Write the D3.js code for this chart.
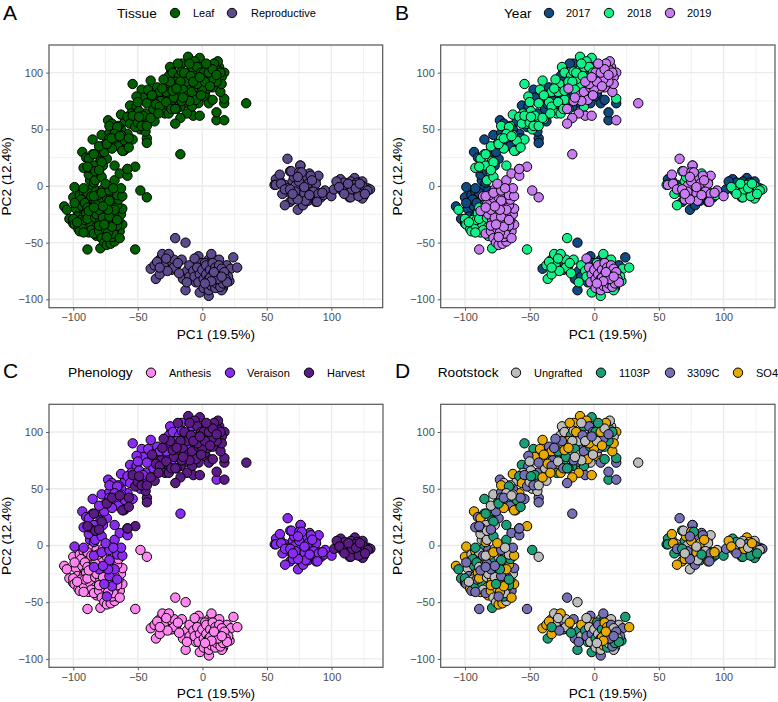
<!DOCTYPE html>
<html><head><meta charset="utf-8">
<script src="https://d3js.org/d3.v7.min.js"></script>
<style>
html,body{margin:0;padding:0;background:#fff}
svg{display:block}
text{font-family:"Liberation Sans",Arial,sans-serif}
</style></head><body><svg id="c" width="778" height="702"></svg>
<script>
// Each row: PC1, PC2, rootstock index
const leafAnthesis2017=[[-107,-18,3],[-103,-29,1],[-100,-10,3],[-98,-20,0],[-96,-14,2],[-97,-27,2],[-95,-8,0],[-93,-18,1],[-92,-5,3],[-91,-24,0],[-90,-10,2],[-88,-16,3],[-87,-28,1],[-86,-3,1],[-85,-20,2],[-84,-10,0],[-83,-32,3],[-82,-4,2],[-81,-15,0],[-94,-33,3],[-90,-38,2],[-100,-33,1],[-94,-12,1],[-89,-6,0],[-86,-13,3],[-99,-15,2],[-92,-27,3],[-88,-34,0],[-91,-15,1]];
const leafAnthesis2018=[[-105,-21,1],[-100,-29,1],[-99,-34,2],[-96,-38,3],[-95,-40,2],[-94,-30,0],[-92,-35,1],[-90,-24,3],[-89,-19,0],[-88,-41,3],[-87,-33,1],[-85,-26,2],[-84,-21,0],[-83,-37,3],[-82,-44,3],[-80,-28,0],[-79,-55,1],[-52,-56,2],[-79,-18,2],[-76,-42,3],[-73,-47,1],[-86,-39,0],[-91,-30,2],[-78,-34,1],[-84,-15,3],[-81,-23,1],[-92,-41,2],[-97,-32,0],[-89,-29,3],[-83,-28,0]];
const leafAnthesis2019=[[-89,-56,2],[-48,-4,1],[-43,-10,0],[-84,-42,2],[-80,-40,3],[-78,-46,0],[-76,-50,0],[-74,-52,3],[-71,-51,3],[-68,-49,0],[-66,-45,3],[-70,-45,1],[-64,-40,2],[-62,-34,3],[-65,-30,0],[-63,-25,0],[-62,-20,2],[-68,-38,3],[-75,-38,0],[-72,-30,1],[-79,-30,3],[-82,-25,0],[-76,-24,2],[-70,-24,0],[-66,-17,3],[-86,-9,2],[-78,-14,1],[-74,-10,0],[-70,-12,3],[-65,-12,1],[-73,-18,0],[-83,-16,2],[-81,-8,3],[-77,-3,0],[-88,-22,2],[-69,-42,0],[-73,-41,3],[-66,-35,1],[-64,-46,3],[-77,-28,0],[-68,-27,2],[-80,-35,3],[-71,-7,3],[-67,-3,0]];
const leafVeraison2017=[[-99,-1,3],[-85,41,1],[-78,45,0],[-73,58,2],[-56,71,1],[-47,85,1],[-93,30,3],[-90,25,2],[-86,15,2],[-87,5,0],[-80,10,3],[-92,-2,1],[-72,47,2],[-68,38,1],[-60,57,0],[-51,70,2],[-42,76,0],[-35,87,2],[-28,78,1],[-22,88,2],[-24,102,1],[-16,108,3],[-8,100,0],[11,58,1],[-84,3,3],[-77,18,0],[-74,24,2],[-80,30,1],[-65,35,2],[-58,46,3],[-44,64,2],[-38,68,0],[-88,10,0],[-82,18,3],[-76,30,2],[-70,55,0],[-63,50,2],[-46,78,3],[-30,72,2],[-26,97,0]];
const leafVeraison2018=[[-54,90,1],[-79,22,1],[-80,12,2],[-85,28,1],[-88,24,3],[-84,18,0],[-83,5,0],[-78,8,1],[-68,18,1],[-92,16,2],[-75,37,1],[-80,35,0],[-72,53,3],[-65,53,0],[-63,63,3],[-55,64,0],[-53,61,2],[-51,79,2],[-50,74,0],[-47,56,1],[-43,73,2],[-44,59,2],[-39,59,3],[-40,93,3],[-42,85,3],[-37,80,3],[-25,105,0],[-23,100,0],[-18,97,1],[-16,101,0],[-27,90,0],[-23,76,1],[-63,45,0],[-70,33,3],[-72,42,2],[-54,41,2],[-48,50,0],[-58,61,1],[-61,31,3],[-66,52,1],[-52,55,1],[-33,83,3],[-12,88,2],[-5,95,1],[-56,55,3],[-49,66,0],[-46,62,1],[-35,74,2],[-28,83,1],[-20,92,3],[-14,94,0],[-8,105,1],[-68,46,0],[-60,40,1]];
const leafVeraison2019=[[-17,28,2],[-74,-45,2],[-70,-36,3],[-76,-34,1],[-72,-27,2],[-66,-30,1],[-68,-21,3],[-73,-21,1],[-80,-21,2],[-72,-13,1],[-84,-9,0],[-78,-6,3],[-72,-4,2],[-66,-8,0],[-62,-9,3],[-75,2,3],[-68,5,1],[-63,-2,2],[-69,-2,0],[-64,11,2],[-58,9,2],[-77,-18,2],[-84,-19,2]];
const leafHarvest2017=[[-19,108,3],[10,108,2],[14,95,1],[3,78,3],[5,73,2],[11,65,2],[17,73,2],[-20,84,0],[-25,92,2],[-22,78,1],[-14,73,2],[-8,72,3],[-3,73,0],[-37,57,0],[-43,42,2],[-43,38,2],[-60,32,3],[-88,16,2],[-83,13,0],[-5,84,1],[-12,92,0],[0,104,3],[6,98,1],[-32,75,2],[-27,70,0],[-52,52,2],[-44,48,0],[-57,42,2],[-17,70,1],[-6,90,2],[2,82,0],[8,76,1],[-36,72,3],[13,88,0]];
const leafHarvest2018=[[-11,114,3],[-2,113,1],[-6,110,3],[-4,105,2],[-14,100,3],[-30,94,2],[-39,80,3],[-33,70,2],[-29,64,1],[-26,64,3],[-20,68,1],[-50,56,0],[-54,62,2],[-47,53,2],[-43,53,0],[-40,60,3],[-49,61,1],[-74,37,1],[-70,42,2],[-64,44,0],[-62,31,3],[-57,34,1],[-84,28,1],[-78,21,1],[-89,17,2],[-80,14,2],[-58,15,1],[-9,97,2],[-17,92,0],[17,77,1],[-3,92,1],[-23,84,3],[-31,86,2],[-28,74,0],[-24,68,2],[-15,85,1],[-10,108,0],[-1,100,2],[-34,64,3],[-8,70,1]];
const leafHarvest2019=[[34,73,0],[-7,62,2],[-2,62,3],[-12,64,3],[-17,60,3],[-21,55,2],[-21,68,1],[-20,86,3],[-11,80,0],[-8,83,2],[-5,76,3],[-3,87,1],[0,95,3],[3,98,0],[5,90,2],[8,87,1],[9,100,1],[13,105,0],[12,110,0],[17,100,3],[15,96,0],[10,95,1],[4,86,2],[0,86,3],[-10,75,0],[14,83,3],[17,58,2],[6,105,2],[3,103,0],[-16,75,2],[15,90,3],[11,92,1],[7,94,2],[1,100,1],[-4,90,3],[-15,78,0],[-1,80,0],[12,102,2],[5,100,3],[9,108,3],[2,92,0],[-52,17,3],[-58,15,2],[8,103,0],[14,100,1],[6,88,3],[-7,92,0],[11,98,2],[3,108,1],[-2,96,2]];
const reproAnthesis2017=[[-13,-50,0],[24,-63,1],[-40,-73,3],[-13,-92,1],[-28,-61,3],[-25,-66,2],[-12,-75,1],[-5,-85,1],[-3,-62,2],[5,-65,0],[-8,-72,0],[-20,-70,2],[11,-68,2],[16,-90,2],[-15,-82,2],[-33,-65,0],[-29,-72,3],[-24,-74,1],[-10,-80,0],[-1,-68,3],[8,-64,1],[19,-70,0]];
const reproAnthesis2018=[[-21,-46,2],[-2,-94,1],[5,-97,2],[-31,-60,0],[-37,-70,3],[-36,-82,1],[-30,-70,0],[-22,-65,0],[-22,-72,0],[-18,-77,1],[-16,-65,2],[-12,-85,2],[-10,-70,3],[-7,-75,1],[7,-60,2],[13,-65,0],[22,-73,2],[27,-72,3],[15,-92,0],[21,-84,1],[-33,-78,3],[-26,-60,3],[-27,-75,2],[2,-68,1],[-35,-67,3],[9,-72,0],[18,-78,3],[-33,-72,1],[-28,-64,0],[-19,-68,3],[-6,-80,2],[2,-76,0],[20,-80,2]];
const reproAnthesis2019=[[-6,-64,0],[-4,-72,0],[-2,-78,2],[-3,-85,0],[0,-74,0],[1,-82,1],[1,-90,0],[3,-70,2],[3,-78,0],[4,-86,3],[5,-92,0],[5,-82,2],[6,-74,1],[7,-88,3],[8,-68,3],[8,-78,0],[9,-84,2],[10,-72,3],[10,-90,1],[11,-80,3],[11,-86,0],[12,-76,2],[13,-70,2],[13,-84,3],[14,-89,2],[14,-78,1],[15,-73,0],[16,-82,3],[16,-86,1],[17,-76,2],[18,-82,0],[19,-85,1],[6,-81,3],[12,-82,2],[7,-84,3],[2,-86,0],[9,-76,3],[15,-80,2]];
const reproVeraison2017=[[74,-21,0],[78,-17,2],[60,5,1],[66,-5,2],[71,-11,0],[82,-13,1],[88,-14,3],[92,-10,1],[85,-4,2],[72,3,0],[80,8,2],[57,6,1],[68,-14,3],[76,-8,1],[64,1,0],[73,-2,1],[81,-2,3],[88,6,2]];
const reproVeraison2018=[[62,-7,1],[64,-17,3],[56,1,1],[70,4,1],[68,13,1],[76,18,1],[82,-10,0],[75,-4,3],[86,0,1],[66,-2,0],[79,2,3],[90,-6,1],[71,8,3],[83,11,2],[94,-8,1]];
const reproVeraison2019=[[66,24,2],[76,18,2],[69,13,0],[75,12,3],[90,9,0],[60,10,3],[57,1,1],[61,2,3],[70,-12,3],[64,-3,2],[72,0,0],[78,7,2],[84,9,2],[82,2,3],[88,2,0],[86,-5,0],[79,-6,3],[72,-5,2],[68,-3,1],[75,4,3],[90,-7,2],[95,-4,0],[100,-9,1],[89,-14,2],[80,-13,0],[74,-12,2],[83,-8,1],[93,-6,3],[77,12,1],[85,5,3],[79,-1,0],[74,8,2],[70,-7,0]];
const reproHarvest2017=[[107,6,1],[118,7,3],[124,4,0],[105,0,2],[112,-5,0],[118,-8,2],[125,-9,1],[102,-3,2],[110,3,1],[115,4,0],[120,3,3],[128,-2,2],[108,-4,3],[122,-6,0],[114,-10,1],[104,4,3],[117,-5,2],[123,-3,2]];
const reproHarvest2018=[[112,-1,3],[115,-10,1],[124,-11,1],[127,-5,3],[130,-3,2],[118,1,2],[124,0,2],[108,-2,0],[120,-5,1],[128,-4,0],[116,-3,3],[106,-1,3],[113,2,0],[121,-9,1],[126,-7,1],[110,-7,2],[119,-2,0],[122,2,3]];
const tissueNames=["Leaf","Reproductive"];
const yearNames=["2017","2018","2019"];
const phenologyNames=["Anthesis","Veraison","Harvest"];
const rootstockNames=["Ungrafted","1103P","3309C","SO4"];
const tissueColors=["#005f00","#5d4a8c"];
const yearColors=["#114a80","#12f08a","#c77cf2"];
const phenologyColors=["#ff85f0","#8a2bf2","#5a1c84"];
const rootstockColors=["#bdbdbd","#1b9e77","#7570b3","#e6ab02"];
const xTicks=[-100,-50,0,50,100], xMinor=[-75,-25,25,75,125];
const yTicks=[-100,-50,0,50,100], yMinor=[-75,-25,25,75];
const groups=[
 [leafAnthesis2017,0,0,0],[leafAnthesis2018,0,1,0],[leafAnthesis2019,0,2,0],
 [leafVeraison2017,0,0,1],[leafVeraison2018,0,1,1],[leafVeraison2019,0,2,1],
 [leafHarvest2017,0,0,2],[leafHarvest2018,0,1,2],[leafHarvest2019,0,2,2],
 [reproAnthesis2017,1,0,0],[reproAnthesis2018,1,1,0],[reproAnthesis2019,1,2,0],
 [reproVeraison2017,1,0,1],[reproVeraison2018,1,1,1],[reproVeraison2019,1,2,1],
 [reproHarvest2017,1,0,2],[reproHarvest2018,1,1,2]];
const samples=groups.flatMap(([rows,t,y,p])=>rows.map(r=>({x:r[0],y:r[1],root:r[2],t,year:y,p})));

const svg=d3.select("#c");
const panels=[
 {tag:"A",tx:3,ty:19.5,l:49,r:382.7,t:45,b:307.7,key:"t",names:tissueNames,colors:tissueColors,title:"Tissue",titleX:117,ly:13,
  cx:[175,232],lx:[193,251],yTitle:6,sorted:false},
 {tag:"B",tx:395,ty:19.5,l:440.7,r:775,t:45,b:307.7,key:"year",names:yearNames,colors:yearColors,title:"Year",titleX:504,ly:13,
  cx:[549,609,670],lx:[566,627,687],yTitle:397,sorted:true},
 {tag:"C",tx:3,ty:378,l:49,r:383,t:404.3,b:667.3,key:"p",names:phenologyNames,colors:phenologyColors,title:"Phenology",titleX:68,ly:372.7,
  cx:[151,230,309],lx:[169,247,327],yTitle:6,sorted:true},
 {tag:"D",tx:395,ty:378,l:440.7,r:775,t:404.3,b:667.3,key:"root",names:rootstockNames,colors:rootstockColors,title:"Rootstock",titleX:437.7,ly:372.7,
  cx:[516,601,670,738],lx:[534,619,687,756],yTitle:397,sorted:false}];

panels.forEach(P=>{
 const g=svg.append("g");
 const x=d3.scaleLinear().domain([-118.8,139.8]).range([P.l,P.r]);
 const y=d3.scaleLinear().domain([-107.4,124.4]).range([P.b,P.t]);
 g.append("rect").attr("x",P.l).attr("y",P.t).attr("width",P.r-P.l).attr("height",P.b-P.t).attr("fill","#fff");
 const grid=g.append("g").attr("fill","none").attr("stroke","#ebebeb");
 grid.selectAll(".xm").data(xMinor).join("line").attr("x1",x).attr("x2",x).attr("y1",P.t).attr("y2",P.b).attr("stroke-width",0.7);
 grid.selectAll(".ym").data(yMinor).join("line").attr("y1",y).attr("y2",y).attr("x1",P.l).attr("x2",P.r).attr("stroke-width",0.7);
 grid.selectAll(".xM").data(xTicks).join("line").attr("x1",x).attr("x2",x).attr("y1",P.t).attr("y2",P.b).attr("stroke-width",1.4);
 grid.selectAll(".yM").data(yTicks).join("line").attr("y1",y).attr("y2",y).attr("x1",P.l).attr("x2",P.r).attr("stroke-width",1.4);
 const fmt=d=>String(d).replace("-","\u2212");
 const ax=g.append("g").attr("transform",`translate(0,${P.b})`).call(d3.axisBottom(x).tickValues(xTicks).tickFormat(fmt).tickSize(3).tickSizeOuter(0).tickPadding(3));
 const ay=g.append("g").attr("transform",`translate(${P.l},0)`).call(d3.axisLeft(y).tickValues(yTicks).tickFormat(fmt).tickSize(3).tickSizeOuter(0).tickPadding(3));
 [ax,ay].forEach(a=>{a.select(".domain").remove();a.selectAll("line").attr("stroke","#333").attr("stroke-width",0.8);
   a.selectAll("text").attr("fill","#4d4d4d").style("font-size","10.9px").style("font-family",'"Liberation Sans"');});
 const data=P.sorted?d3.sort(samples,d=>d[P.key]):samples;
 g.append("g").selectAll("circle").data(data).join("circle")
  .attr("cx",d=>x(d.x)).attr("cy",d=>y(d.y)).attr("r",4.7)
  .attr("fill",d=>P.colors[d[P.key]]).attr("stroke","#000").attr("stroke-width",1);
 g.append("rect").attr("x",P.l).attr("y",P.t).attr("width",P.r-P.l).attr("height",P.b-P.t).attr("fill","none").attr("stroke","#555").attr("stroke-width",1.2);
 g.append("text").attr("x",(P.l+P.r)/2).attr("y",P.b+31).attr("text-anchor","middle").attr("font-size",13.7).attr("fill","#000").text("PC1 (19.5%)");
 g.append("text").attr("transform",`translate(${P.yTitle+5},${(P.t+P.b)/2}) rotate(-90)`).attr("text-anchor","middle").attr("font-size",13.7).attr("fill","#000").text("PC2 (12.4%)");
 g.append("text").attr("x",P.tx).attr("y",P.ty).attr("font-size",21).attr("fill","#000").text(P.tag);
 g.append("text").attr("x",P.titleX).attr("y",P.ly+4.5).attr("font-size",13.7).attr("fill","#000").text(P.title);
 g.selectAll(".lc").data(P.names).join("circle").attr("cx",(d,i)=>P.cx[i]).attr("cy",P.ly).attr("r",4.7).attr("fill",(d,i)=>P.colors[i]).attr("stroke","#000").attr("stroke-width",1);
 g.selectAll(".lt").data(P.names).join("text").attr("x",(d,i)=>P.lx[i]).attr("y",P.ly+3.8).attr("font-size",11).attr("fill","#000").text(d=>d);
});
</script></body></html>
